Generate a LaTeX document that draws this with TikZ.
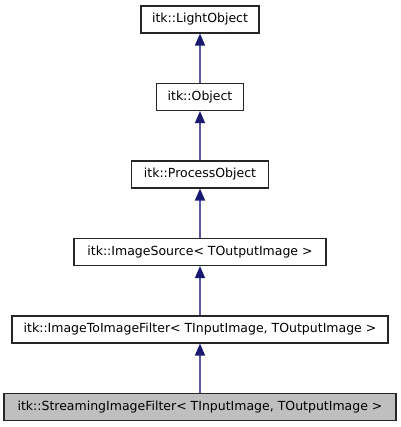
\documentclass[tikz,border=0pt]{standalone}
\usepackage{fontspec}
\setmainfont{DejaVu Sans}
\usepackage{tikz}
\usetikzlibrary{arrows.meta}
\definecolor{mblue}{RGB}{25,25,112}
\definecolor{eblue}{RGB}{90,90,165}
\definecolor{lgray}{RGB}{191,191,191}

\begin{document}
\begin{tikzpicture}[x=1pt,y=-1pt,font=\fontsize{12.5}{14}\selectfont,
        cls/.style={rectangle,draw=black!85,line width=1.1pt,fill=white,minimum height=27pt,inner sep=0pt},
        cur/.style={cls,fill=lgray},
        edg/.style={draw=eblue,line width=1.4pt,-{Triangle[length=12pt,width=10pt,color=mblue,fill=mblue]}}]
        \useasboundingbox (0,0) rectangle (400,427);
        \node[cls,minimum width=118pt](lobj) at (200,19.5){itk::LightObject};
        \node[cls,minimum width=87pt](obj) at (200,97){itk::Object};
        \node[cls,minimum width=137pt](pobj) at (200,174.5){itk::ProcessObject};
        \node[cls,minimum width=252pt](src) at (200,252){itk::ImageSource< TOutputImage >};
        \node[cls,minimum width=376pt](i2i) at (200,329.5){itk::ImageToImageFilter< TInputImage, TOutputImage >};
        \node[cur,minimum width=392pt](sif) at (200,407){itk::StreamingImageFilter< TInputImage, TOutputImage >};
        \foreach \a/\b in {obj/lobj,pobj/obj,src/pobj,i2i/src,sif/i2i}
          {\draw[edg](\a.north)--(\b.south);}
      \end{tikzpicture}
\end{document}
